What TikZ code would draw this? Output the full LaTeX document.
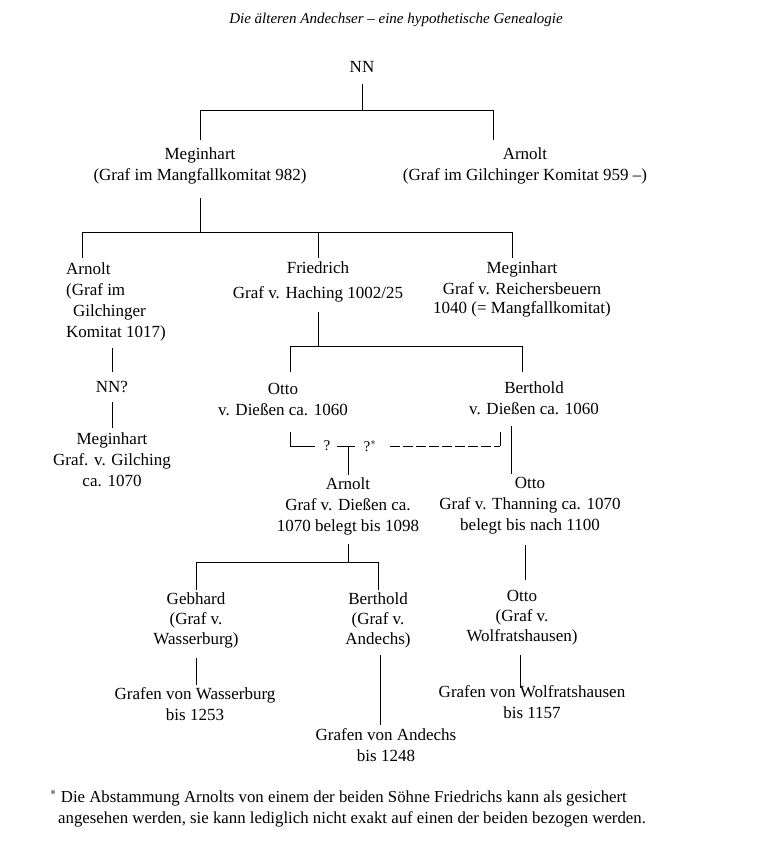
\documentclass[tikz,border=0pt]{standalone}
\usepackage{fontspec}
\setmainfont{Liberation Serif}
\begin{document}
\begin{tikzpicture}[x=1pt,y=-1pt,
  p/.style={anchor=north,align=center,inner sep=0pt,font=\fontsize{17}{21}\selectfont},
  ln/.style={line width=0.8pt}]
\useasboundingbox (0,0) rectangle (770,854);
\node[font=\fontsize{15}{20}\selectfont\itshape] (title) at (396,20) {Die älteren Andechser -- eine hypothetische Genealogie};
\node[p] (nn) at (362,61) {NN};
\node[p] (meg1) at (200,148) {Meginhart\\(Graf im Mangfallkomitat 982)};
\node[p] (arn1) at (525,148) {Arnolt\\(Graf im Gilchinger Komitat 959 --)};
\node[p,anchor=north west,align=left] (arn2) at (66,262) {Arnolt\\(Graf im\\\hspace*{7pt}Gilchinger\\Komitat 1017)};
\node[p,font=\fontsize{17}{25}\selectfont] (fri) at (318,262) {Friedrich\\Graf v. Haching 1002/25};
\node[p,font=\fontsize{17}{20}\selectfont] (meg2) at (522,262) {Meginhart\\Graf v. Reichersbeuern\\1040 (= Mangfallkomitat)};
\node[p] (nnq) at (112,381) {NN?};
\node[p] (meg3) at (112,432) {Meginhart\\Graf. v. Gilching\\ca. 1070};
\node[p] (otto1) at (283,383) {Otto\\v. Dießen ca. 1060};
\node[p] (ber1) at (534,381) {Berthold\\v. Dießen ca. 1060};
\node[p,font=\fontsize{17}{21}\selectfont] (arn3) at (348,477) {Arnolt\\Graf v. Dießen ca.\\1070 belegt bis 1098};
\node[p,font=\fontsize{17}{21}\selectfont] (otto2) at (530,477) {Otto\\Graf v. Thanning ca. 1070\\belegt bis nach 1100};
\node[p,font=\fontsize{17}{20}\selectfont] (geb) at (196,592) {Gebhard\\(Graf v.\\Wasserburg)};
\node[p,font=\fontsize{17}{20}\selectfont] (ber2) at (378,592) {Berthold\\(Graf v.\\Andechs)};
\node[p,font=\fontsize{17}{20}\selectfont] (otto3) at (522,590) {Otto\\(Graf v.\\Wolfratshausen)};
\node[p] (gw) at (195,687) {Grafen von Wasserburg\\bis 1253};
\node[p] (ga) at (386,728) {Grafen von Andechs\\bis 1248};
\node[p] (gwo) at (532,685) {Grafen von Wolfratshausen\\bis 1157};
\node[p,anchor=north west,align=left,font=\fontsize{16.8}{21}\selectfont] (fn) at (50,790) {$^{*}$\ Die Abstammung Arnolts von einem der beiden Söhne Friedrichs kann als gesichert\\\hspace*{8pt}angesehen werden, sie kann lediglich nicht exakt auf einen der beiden bezogen werden.};
% tree lines
\draw[ln] (362,84) -- (362,110) (200,140) |- (493,110) -- (493,140);
\draw[ln] (200,198) -- (200,232) (82,258) |- (512,232) -- (512,258) (318,232) -- (318,258);
\draw[ln] (112,348) -- (112,372) (112,402) -- (112,428);
\draw[ln] (318,312) -- (318,346) (290,372) |- (522,346) -- (522,372);
\draw[ln] (290,432) |- (315,446) (337,446) -- (355,446) (348,446) -- (348,475);
\node[font=\fontsize{15}{16}\selectfont,inner sep=0pt] (q1) at (327,446) {?};
\node[font=\fontsize{15}{16}\selectfont,inner sep=0pt] (q2) at (370,446) {?$^{*}$};
\draw[ln,dash pattern=on 10pt off 3pt] (390,446) -- (500,446);
\draw[ln] (500,446) -- (500,432);
\draw[ln] (511,426) -- (511,474);
\draw[ln] (348,544) -- (348,562) (196,590) |- (378,562) -- (378,590);
\draw[ln] (525,545) -- (525,580) (520,655) -- (520,688);
\draw[ln] (196,658) -- (196,685) (380,655) -- (380,725);
\end{tikzpicture}
\end{document}
